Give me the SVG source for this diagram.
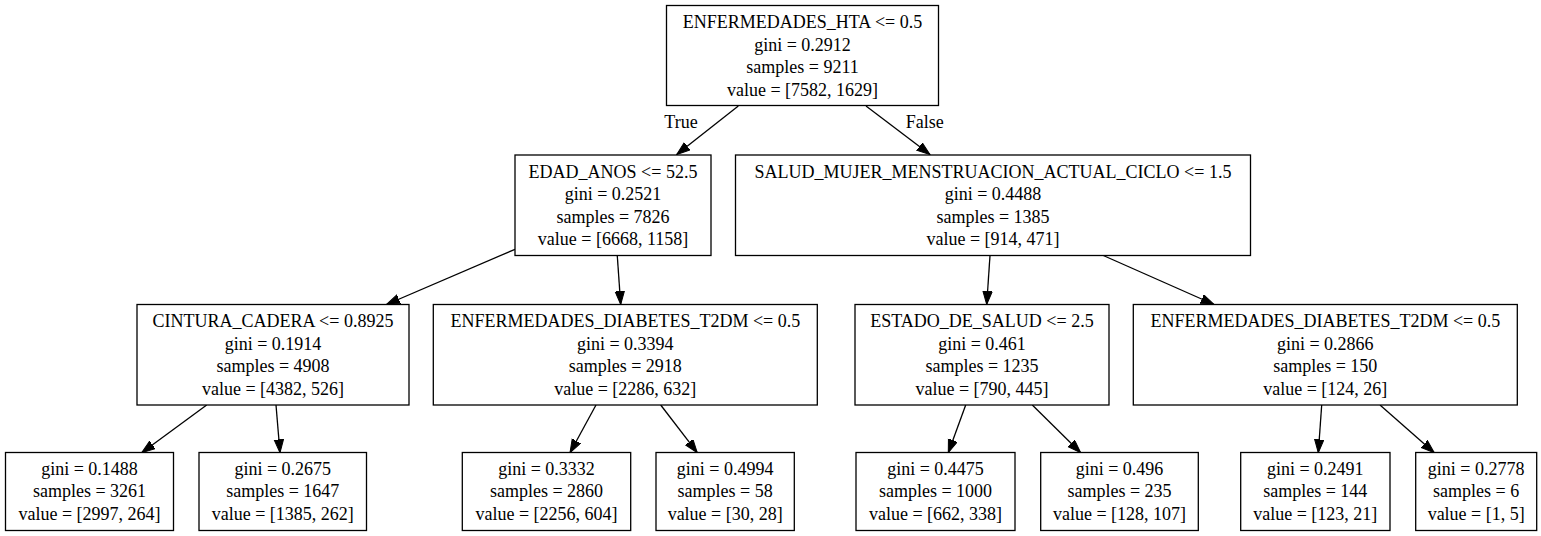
<svg xmlns="http://www.w3.org/2000/svg" width="1541" height="536" viewBox="0 0 1541 536">
<style>
.box{fill:#fff;stroke:#000;stroke-width:1.3}
text{font-family:"Liberation Serif","Times New Roman",serif;font-size:18px;fill:#000;text-anchor:middle}
.edge{stroke:#000;stroke-width:1.3;fill:none;marker-end:url(#arr)}
</style>
<defs>
<marker id="arr" markerUnits="userSpaceOnUse" markerWidth="15" markerHeight="11" refX="13.3" refY="5" orient="auto">
<path d="M0,0.3 L13.3,5 L0,9.7 z" fill="#000" stroke="#000" stroke-width="1"/>
</marker>
</defs>
<rect x="0" y="0" width="1541" height="536" fill="#fff"/>
<g id="edges">
<line class="edge" x1="738.3" y1="106" x2="676.7" y2="154.5"/>
<line class="edge" x1="866" y1="106" x2="930" y2="154.5"/>
<line class="edge" x1="515" y1="249.3" x2="386.5" y2="304.5"/>
<line class="edge" x1="617.3" y1="256" x2="620.7" y2="304.5"/>
<line class="edge" x1="990" y1="255.5" x2="986.7" y2="304.5"/>
<line class="edge" x1="1103.3" y1="255.5" x2="1214" y2="304.5"/>
<line class="edge" x1="206.7" y1="405" x2="141.7" y2="452.7"/>
<line class="edge" x1="276" y1="405" x2="280" y2="452.7"/>
<line class="edge" x1="596" y1="405" x2="570" y2="452.7"/>
<line class="edge" x1="660.7" y1="405" x2="697.3" y2="452.7"/>
<line class="edge" x1="965.7" y1="405" x2="948.3" y2="452.7"/>
<line class="edge" x1="1032.3" y1="405" x2="1080.7" y2="452.7"/>
<line class="edge" x1="1321.7" y1="405" x2="1318.3" y2="452.7"/>
<line class="edge" x1="1380" y1="405" x2="1434.3" y2="452.7"/>
<text x="681" y="127.5">True</text>
<text x="924.7" y="127.5">False</text>
</g>
<g id="n0">
<rect class="box" x="666.5" y="5.5" width="272" height="100"/>
<text x="802.5" y="28.3">ENFERMEDADES_HTA &lt;= 0.5</text>
<text x="802.5" y="50.7">gini = 0.2912</text>
<text x="802.5" y="73.1">samples = 9211</text>
<text x="802.5" y="95.5">value = [7582, 1629]</text>
</g>
<g id="n1">
<rect class="box" x="515" y="155" width="196" height="100.5"/>
<text x="613" y="177.8">EDAD_ANOS &lt;= 52.5</text>
<text x="613" y="200.2">gini = 0.2521</text>
<text x="613" y="222.6">samples = 7826</text>
<text x="613" y="245">value = [6668, 1158]</text>
</g>
<g id="n2">
<rect class="box" x="735.5" y="155" width="515" height="100.5"/>
<text x="993" y="177.8">SALUD_MUJER_MENSTRUACION_ACTUAL_CICLO &lt;= 1.5</text>
<text x="993" y="200.2">gini = 0.4488</text>
<text x="993" y="222.6">samples = 1385</text>
<text x="993" y="245">value = [914, 471]</text>
</g>
<g id="n3">
<rect class="box" x="137" y="304.5" width="272" height="100.5"/>
<text x="273" y="327.3">CINTURA_CADERA &lt;= 0.8925</text>
<text x="273" y="349.7">gini = 0.1914</text>
<text x="273" y="372.1">samples = 4908</text>
<text x="273" y="394.5">value = [4382, 526]</text>
</g>
<g id="n4">
<rect class="box" x="433.3" y="304.5" width="384" height="100.5"/>
<text x="625.3" y="327.3">ENFERMEDADES_DIABETES_T2DM &lt;= 0.5</text>
<text x="625.3" y="349.7">gini = 0.3394</text>
<text x="625.3" y="372.1">samples = 2918</text>
<text x="625.3" y="394.5">value = [2286, 632]</text>
</g>
<g id="n5">
<rect class="box" x="855" y="304.5" width="254" height="100.5"/>
<text x="982" y="327.3">ESTADO_DE_SALUD &lt;= 2.5</text>
<text x="982" y="349.7">gini = 0.461</text>
<text x="982" y="372.1">samples = 1235</text>
<text x="982" y="394.5">value = [790, 445]</text>
</g>
<g id="n6">
<rect class="box" x="1133.3" y="304.5" width="384" height="100.5"/>
<text x="1325.3" y="327.3">ENFERMEDADES_DIABETES_T2DM &lt;= 0.5</text>
<text x="1325.3" y="349.7">gini = 0.2866</text>
<text x="1325.3" y="372.1">samples = 150</text>
<text x="1325.3" y="394.5">value = [124, 26]</text>
</g>
<g id="n7">
<rect class="box" x="5.5" y="452.5" width="168" height="78"/>
<text x="89.5" y="475">gini = 0.1488</text>
<text x="89.5" y="497.4">samples = 3261</text>
<text x="89.5" y="519.8">value = [2997, 264]</text>
</g>
<g id="n8">
<rect class="box" x="199" y="452.5" width="167.5" height="78"/>
<text x="282.8" y="475">gini = 0.2675</text>
<text x="282.8" y="497.4">samples = 1647</text>
<text x="282.8" y="519.8">value = [1385, 262]</text>
</g>
<g id="n9">
<rect class="box" x="462.3" y="452.5" width="168.4" height="78"/>
<text x="546.5" y="475">gini = 0.3332</text>
<text x="546.5" y="497.4">samples = 2860</text>
<text x="546.5" y="519.8">value = [2256, 604]</text>
</g>
<g id="n10">
<rect class="box" x="656" y="452.5" width="138.3" height="78"/>
<text x="725.2" y="475">gini = 0.4994</text>
<text x="725.2" y="497.4">samples = 58</text>
<text x="725.2" y="519.8">value = [30, 28]</text>
</g>
<g id="n11">
<rect class="box" x="856" y="452.5" width="159" height="78"/>
<text x="935.5" y="475">gini = 0.4475</text>
<text x="935.5" y="497.4">samples = 1000</text>
<text x="935.5" y="519.8">value = [662, 338]</text>
</g>
<g id="n12">
<rect class="box" x="1040.7" y="452.5" width="157.6" height="78"/>
<text x="1119.5" y="475">gini = 0.496</text>
<text x="1119.5" y="497.4">samples = 235</text>
<text x="1119.5" y="519.8">value = [128, 107]</text>
</g>
<g id="n13">
<rect class="box" x="1240.7" y="452.5" width="149.3" height="78"/>
<text x="1315.3" y="475">gini = 0.2491</text>
<text x="1315.3" y="497.4">samples = 144</text>
<text x="1315.3" y="519.8">value = [123, 21]</text>
</g>
<g id="n14">
<rect class="box" x="1415.7" y="452.5" width="121" height="78"/>
<text x="1476.2" y="475">gini = 0.2778</text>
<text x="1476.2" y="497.4">samples = 6</text>
<text x="1476.2" y="519.8">value = [1, 5]</text>
</g>
</svg>
